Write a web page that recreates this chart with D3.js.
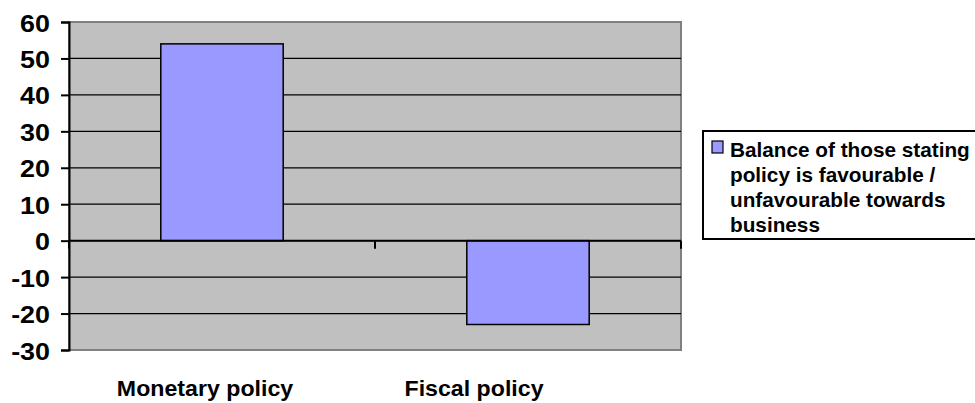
<!DOCTYPE html>
<html>
<head>
<meta charset="utf-8">
<script src="https://cdn.jsdelivr.net/npm/d3@7"></script>
<style>
  html, body { margin: 0; padding: 0; background: #fff; }
  svg { display: block; font-family: "Liberation Sans", Arial, sans-serif; font-weight: bold; }
</style>
</head>
<body>
<svg id="chart" width="975" height="403"></svg>
<script>
// chart data
const categories = ["Monetary policy", "Fiscal policy"];
const values = [54, -23];
const yTicks = [60, 50, 40, 30, 20, 10, 0, -10, -20, -30];
const seriesName = "Balance of those stating policy is favourable / unfavourable towards business";
const legendLines = ["Balance of those stating", "policy is favourable /", "unfavourable towards", "business"];

const plot = { left: 69, right: 681, top: 22, bottom: 350 };
const labelDx = [-17, -54];   // excel puts the category labels a bit off centre

const svg = d3.select("#chart");

const x = d3.scaleBand()
    .domain(categories)
    .range([plot.left, plot.right])
    .paddingInner(0.6)
    .paddingOuter(0.3);

const y = d3.scaleLinear()
    .domain([-30, 60])
    .range([plot.bottom, plot.top]);

// plot area
svg.append("rect")
    .attr("x", plot.left)
    .attr("y", plot.top)
    .attr("width", plot.right - plot.left)
    .attr("height", plot.bottom - plot.top)
    .attr("fill", "#c0c0c0")
    .attr("stroke", "#808080")
    .attr("stroke-width", 2);

// gridlines
svg.append("g")
    .selectAll("line")
    .data(yTicks.filter(d => d !== 60 && d !== -30))
    .join("line")
    .attr("x1", plot.left)
    .attr("x2", plot.right)
    .attr("y1", d => y(d))
    .attr("y2", d => y(d))
    .attr("stroke", "#000")
    .attr("stroke-width", 1.2);

// bars
svg.append("g")
    .selectAll("rect")
    .data(values)
    .join("rect")
    .attr("x", (d, i) => x(categories[i]))
    .attr("width", x.bandwidth())
    .attr("y", d => y(Math.max(0, d)))
    .attr("height", d => Math.abs(y(d) - y(0)))
    .attr("fill", "#9999ff")
    .attr("stroke", "#000")
    .attr("stroke-width", 1.5);

// y axis
const yAxis = g => g
    .attr("transform", "translate(" + plot.left + ",0)")
    .call(d3.axisLeft(y).tickValues(yTicks).tickSize(8).tickPadding(0).tickFormat(d3.format("d")))
    .call(g => g.selectAll("text").remove())
    .call(g => g.selectAll("line, path").attr("stroke", "#000").attr("stroke-width", 2));
svg.append("g").call(yAxis);

svg.append("g")
    .selectAll("text")
    .data(yTicks)
    .join("text")
    .attr("transform", d => "translate(50," + (y(d) + 9.5) + ") scale(1.12,1)")
    .attr("text-anchor", "end")
    .attr("font-size", 24)
    .attr("fill", "#000")
    .text(d => d);

// x axis along zero with ticks at category boundaries
const boundaries = [plot.left, (plot.left + plot.right) / 2, plot.right];
svg.append("line")
    .attr("x1", plot.left)
    .attr("x2", plot.right)
    .attr("y1", y(0))
    .attr("y2", y(0))
    .attr("stroke", "#000")
    .attr("stroke-width", 2);
svg.append("g")
    .selectAll("line")
    .data(boundaries)
    .join("line")
    .attr("x1", d => d)
    .attr("x2", d => d)
    .attr("y1", y(0))
    .attr("y2", y(0) + 8)
    .attr("stroke", "#000")
    .attr("stroke-width", 2);

// category labels
svg.append("g")
    .selectAll("text")
    .data(categories)
    .join("text")
    .attr("transform", (d, i) => "translate(" + (x(d) + x.bandwidth() / 2 + labelDx[i]) + ",396) scale(1.03,1)")
    .attr("text-anchor", "middle")
    .attr("font-size", 22.5)
    .attr("fill", "#000")
    .text(d => d);

// legend
const legend = svg.append("g").attr("transform", "translate(703,131)");
legend.append("rect")
    .attr("width", 290)
    .attr("height", 108)
    .attr("fill", "#fff")
    .attr("stroke", "#000")
    .attr("stroke-width", 2);
legend.append("rect")
    .attr("x", 9)
    .attr("y", 10)
    .attr("width", 11)
    .attr("height", 12)
    .attr("fill", "#9999ff")
    .attr("stroke", "#000")
    .attr("stroke-width", 1.2);
legend.append("title").text(seriesName);
const legendText = legend.selectAll("text")
    .data(legendLines)
    .join("text")
    .attr("font-size", 19.5)
    .attr("fill", "#000")
    .text(d => d);
// stretch so that the first line spans the same width as in the original
const sx = Math.min(1.2, 240 / legendText.node().getComputedTextLength());
legendText.attr("transform", (d, i) => "translate(27," + (26 + i * 25) + ") scale(" + sx + ",1)");
</script>
</body>
</html>
